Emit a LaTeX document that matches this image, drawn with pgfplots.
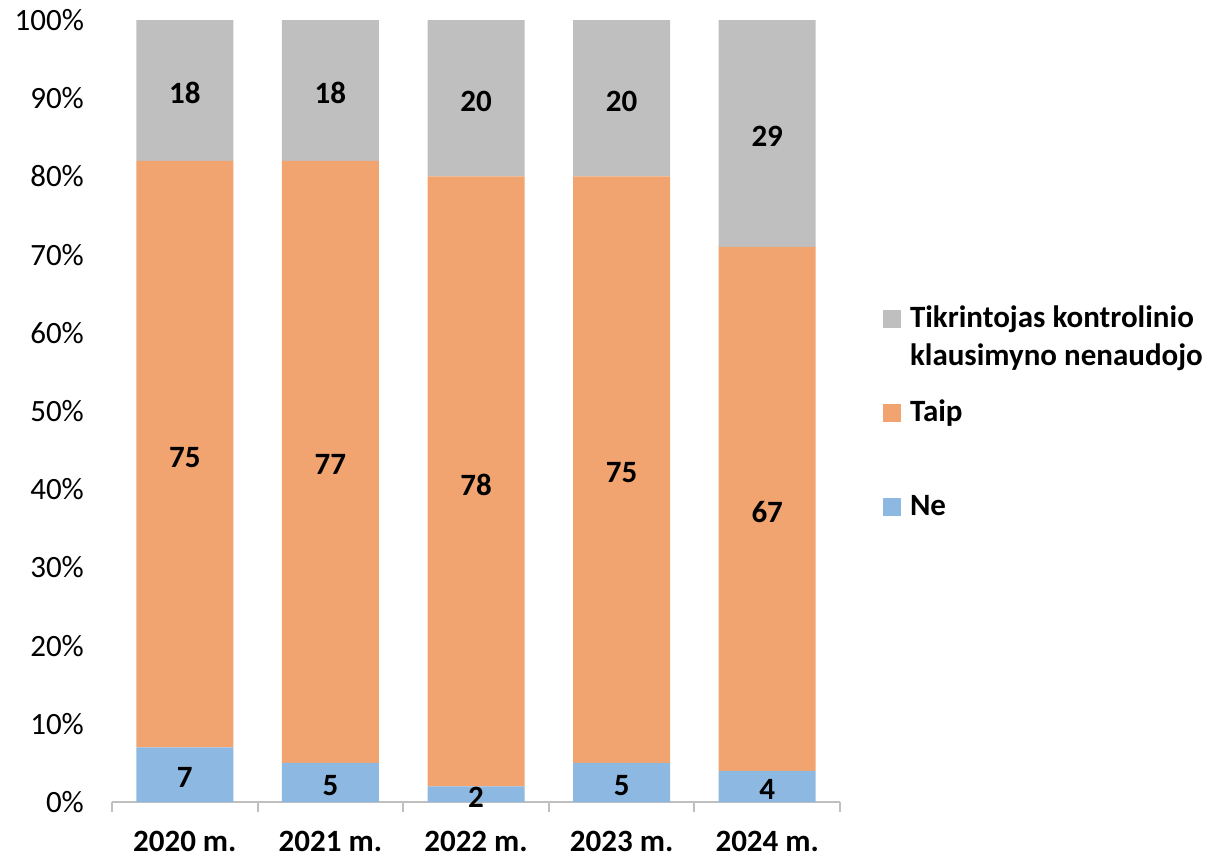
\documentclass[border=0pt]{standalone}
\usepackage{pgfplots}
\pgfplotsset{compat=1.18}
\usepackage{fontspec}
\setmainfont{Carlito}
\definecolor{cgray}{HTML}{BFBFBF}
\definecolor{corange}{HTML}{F1A46F}
\definecolor{cblue}{HTML}{8DB8E2}
\newcommand{\fs}{\fontsize{15.5}{18.6}\selectfont}
\pgfplotsset{base/.style={scale only axis, width=364pt, height=391pt,
  xmin=-0.5, xmax=4.5, ymin=0, ymax=100, clip=false}}
\begin{document}
\begin{tikzpicture}
\begin{axis}[base, ybar stacked, bar width=48.5pt,
  axis x line*=bottom, axis y line*=left,
  y axis line style={draw=none},
  x axis line style={draw=gray!50, line width=1pt, -},
  xtick={0,...,4},
  xticklabels={2020 m.,2021 m.,2022 m.,2023 m.,2024 m.},
  major x tick style={draw=none},
  minor xtick={-0.5,0.5,...,4.5},
  minor x tick style={draw=gray!50, line width=1pt},
  minor tick length=5pt, major tick length=0pt, tick align=outside,
  ytick={0,10,...,100},
  yticklabels={0\%,10\%,20\%,30\%,40\%,50\%,60\%,70\%,80\%,90\%,100\%},
  ytick style={draw=none},
  yticklabel style={font=\fs, xshift=-10.5pt},
  xticklabel style={font=\fs\bfseries, yshift=-11pt},
  /pgf/number format/assume math mode=true,
  legend image code/.code={\fill[#1] (0pt,11.5pt) rectangle (9pt,20.5pt);},
  legend style={at={(axis description cs:1.059,0.637)}, anchor=north west,
    draw=none, fill=none, inner sep=0pt, outer sep=0pt, row sep=0pt,
    column sep=4.5pt, font=\fs\bfseries,
    nodes={inner sep=0pt, text height=12pt, text depth=35pt}},
  legend cell align=left, reverse legend,
]
\addplot[fill=cblue, draw=none] coordinates {(0,7)(1,5)(2,2)(3,5)(4,4)};
\addplot[fill=corange, draw=none] coordinates {(0,75)(1,77)(2,78)(3,75)(4,67)};
\addplot[fill=cgray, draw=none] coordinates {(0,18)(1,18)(2,20)(3,20)(4,29)};
\legend{Ne, Taip, {\begin{tabular}[t]{@{}l@{}}Tikrintojas kontrolinio\\klausimyno nenaudojo\end{tabular}}}
\path (axis description cs:-0.1538,-0.0678) rectangle (axis description cs:1.515,1.0256);
\end{axis}
\begin{axis}[base, hide axis]
\addplot[draw=none, mark=none, nodes near coords, point meta=explicit symbolic,
  nodes near coords style={anchor=center, yshift=-1.5pt, font=\fs\bfseries, text=black}]
  coordinates {(0,3.5)[7] (1,2.5)[5] (2,1)[2] (3,2.5)[5] (4,2)[4]
               (0,44.5)[75] (1,43.5)[77] (2,41)[78] (3,42.5)[75] (4,37.5)[67]
               (0,91)[18] (1,91)[18] (2,90)[20] (3,90)[20] (4,85.5)[29]};
\end{axis}
\end{tikzpicture}
\end{document}
